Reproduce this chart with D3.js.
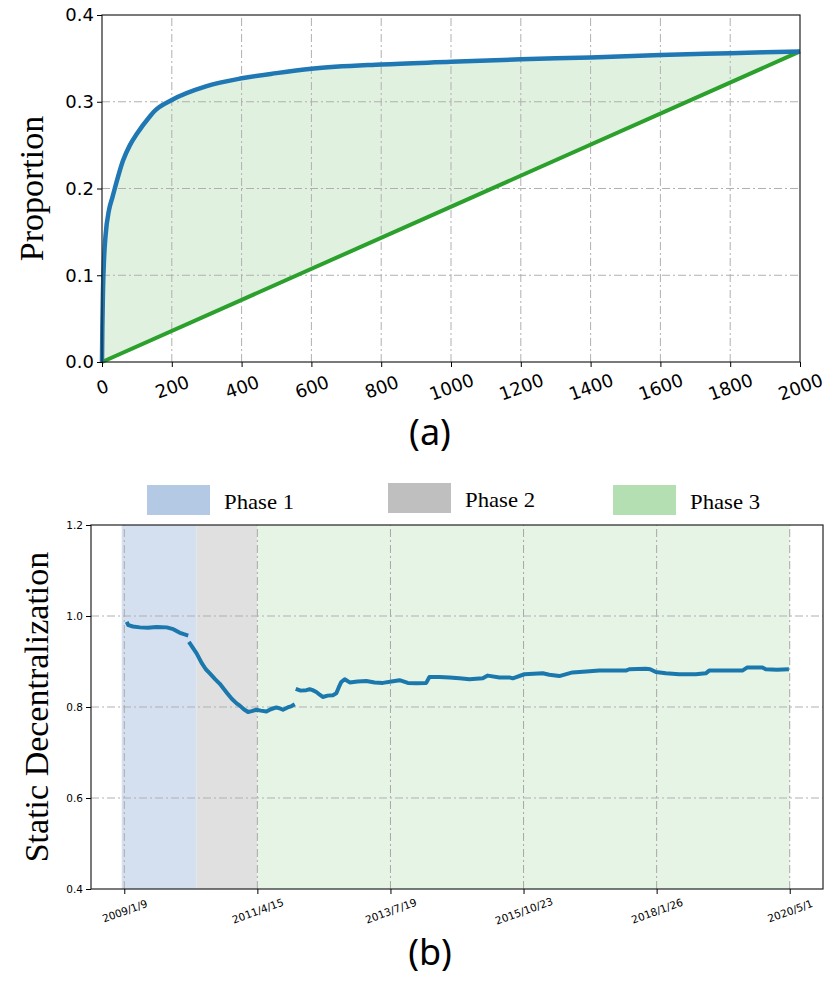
<!DOCTYPE html>
<html lang="en">
<head>
<meta charset="utf-8">
<title>Proportion and Static Decentralization</title>
<script src="https://d3js.org/d3.v7.min.js"></script>
<style>
  body { margin: 0; background: #fff; }
  .tick text { fill: #000; }
</style>
</head>
<body>
<script>
// ---- (a) data ----
const rankX = [0, 1, 3, 6, 10, 20, 30, 40, 60, 80, 100, 137, 150, 200, 300, 400, 500, 600, 800, 1000, 1200, 1400, 1600, 1800, 2000];
const rankCurve = [0, 0.04, 0.085, 0.12, 0.145, 0.175, 0.19, 0.205, 0.232, 0.25, 0.263, 0.283, 0.289, 0.302, 0.318, 0.327, 0.333, 0.338, 0.343, 0.346, 0.349, 0.351, 0.354, 0.356, 0.358];
const diagonalEnd = 0.358;
const topXTicks = [0, 200, 400, 600, 800, 1000, 1200, 1400, 1600, 1800, 2000];
const topYTicks = [0, 0.1, 0.2, 0.3, 0.4];

// ---- (b) data ---- (days after 2009/1/9, null = gap)
const dayOffsets = [15, 25, 54, 97, 147, 201, 263, 304, 345, 370, 397, null,
  401, 426, 449, 480, 506, 531, 562, 593, 635, 667, 697, 717, 742, 768, 791, 820, 847, 882, 909, 944, 965, 985, 1014, 1039, 1058, null,
  1064, 1095, 1130, 1151, 1169, 1192, 1213, 1232, 1262, 1295, 1316, 1331, 1347, 1368, 1399, 1448, 1502, 1554, 1605, 1659, 1708, 1760, 1814, 1874,
  1894, 1956, 2018, 2080, 2142, 2225, 2256, 2328, 2390, 2411, 2483, 2597, 2638, 2700, 2782, 2867, 2948, 3028, 3113, 3134, 3237, 3264, 3299,
  3361, 3444, 3547, 3609, 3630, 3735, 3836, 3867, 3960, 3981, 4051, 4125];
const decentral = [0.987, 0.980, 0.977, 0.975, 0.974, 0.976, 0.975, 0.971, 0.963, 0.960, 0.957, null,
  0.943, 0.930, 0.918, 0.897, 0.883, 0.874, 0.862, 0.851, 0.832, 0.818, 0.808, 0.803, 0.795, 0.789, 0.791, 0.794, 0.792, 0.790, 0.795, 0.799, 0.797, 0.794, 0.799, 0.802, 0.806, null,
  0.840, 0.836, 0.837, 0.839, 0.837, 0.833, 0.827, 0.822, 0.825, 0.826, 0.830, 0.843, 0.855, 0.861, 0.854, 0.856, 0.857, 0.854, 0.853, 0.856, 0.859, 0.853, 0.852, 0.853,
  0.866, 0.866, 0.865, 0.863, 0.861, 0.863, 0.869, 0.865, 0.865, 0.863, 0.872, 0.874, 0.871, 0.868, 0.876, 0.878, 0.880, 0.880, 0.880, 0.883, 0.884, 0.883, 0.877,
  0.874, 0.872, 0.872, 0.874, 0.880, 0.880, 0.880, 0.887, 0.887, 0.883, 0.882, 0.883];
const dateTicks = ["2009/1/9", "2011/4/15", "2013/7/19", "2015/10/23", "2018/1/26", "2020/5/1"];
const phaseNames = ["Phase 1", "Phase 2", "Phase 3"];
const phaseStarts = ["2008/12/24", "2010/4/3", "2011/4/15"];
const phaseEnds = ["2010/4/3", "2011/4/15", "2020/5/1"];
const botYTicks = [0.4, 0.6, 0.8, 1.0, 1.2];

const parseDate = d3.timeParse("%Y/%m/%d");
const fmtDate = d => `${d.getFullYear()}/${d.getMonth() + 1}/${d.getDate()}`;

const svg = d3.select("body").append("svg")
  .attr("width", 830).attr("height", 987);

const gridDash = "8,3,2,3";

// ================= (a) =================
const xA = d3.scaleLinear().domain([0, 2000]).range([102, 800]);
const yA = d3.scaleLinear().domain([0, 0.4]).range([362, 15]);

const curve = rankX.map((x, i) => ({x: x, y: rankCurve[i]}));

svg.append("path")
  .datum(curve)
  .attr("fill", "#2ca02c")
  .attr("fill-opacity", 0.15)
  .attr("d", d3.area()
    .x(d => xA(d.x))
    .y0(d => yA(d.x / 2000 * diagonalEnd))
    .y1(d => yA(d.y))
    .curve(d3.curveMonotoneX));

// grid
const gA = svg.append("g");
gA.selectAll("line.vx").data(topXTicks.slice(1, -1)).enter().append("line")
  .attr("x1", d => xA(d)).attr("x2", d => xA(d))
  .attr("y1", yA(0)).attr("y2", yA(0.4))
  .attr("stroke", "#b0b0b0").attr("stroke-dasharray", gridDash);
gA.selectAll("line.hy").data(topYTicks.slice(1, -1)).enter().append("line")
  .attr("x1", xA(0)).attr("x2", xA(2000))
  .attr("y1", d => yA(d)).attr("y2", d => yA(d))
  .attr("stroke", "#b0b0b0").attr("stroke-dasharray", gridDash);

svg.append("line")
  .attr("x1", xA(0)).attr("y1", yA(0))
  .attr("x2", xA(2000)).attr("y2", yA(diagonalEnd))
  .attr("stroke", "#2ca02c").attr("stroke-width", 4);

svg.append("path")
  .datum(curve)
  .attr("fill", "none")
  .attr("stroke", "#1f77b4")
  .attr("stroke-width", 4.5)
  .attr("stroke-linejoin", "round")
  .attr("d", d3.line().x(d => xA(d.x)).y(d => yA(d.y)).curve(d3.curveMonotoneX));

svg.append("rect")
  .attr("x", xA(0)).attr("y", yA(0.4))
  .attr("width", xA(2000) - xA(0)).attr("height", yA(0) - yA(0.4))
  .attr("fill", "none").attr("stroke", "#222").attr("stroke-width", 1.2);

const axA = svg.append("g")
  .attr("transform", `translate(0,${yA(0)})`)
  .call(d3.axisBottom(xA).tickValues(topXTicks).tickFormat(d3.format("d")).tickSize(5).tickSizeOuter(0));
axA.select(".domain").remove();
axA.selectAll("text")
  .attr("y", 0).attr("dy", "0.35em")
  .attr("transform", "translate(0,25) rotate(-20)")
  .style("text-anchor", "middle")
  .style("font", "18px 'DejaVu Sans'");

const ayA = svg.append("g")
  .attr("transform", `translate(${xA(0)},0)`)
  .call(d3.axisLeft(yA).tickValues(topYTicks).tickFormat(d3.format(".1f")).tickSize(5).tickSizeOuter(0));
ayA.select(".domain").remove();
ayA.selectAll("text").style("font", "18px 'DejaVu Sans'");

svg.append("text")
  .attr("transform", `translate(31,${(yA(0) + yA(0.4)) / 2}) rotate(-90)`)
  .attr("text-anchor", "middle").attr("dy", "0.35em")
  .style("font", "34px 'Liberation Serif'")
  .text("Proportion");

svg.append("text")
  .attr("x", 430).attr("y", 445)
  .attr("text-anchor", "middle")
  .style("font", "36px 'Noto Sans'")
  .text("(a)");

// ================= (b) =================
const d0 = parseDate(dateTicks[0]);
const d1 = parseDate(dateTicks[dateTicks.length - 1]);
const xB = d3.scaleTime()
  .domain([new Date(+d0 - 206.5 * 864e5), new Date(+d1 + 206.5 * 864e5)])
  .range([91, 823]);
const yB = d3.scaleLinear().domain([0.4, 1.2]).range([889, 525]);

const spanFill = ["#d4e0f0", "#e0e0e0", "#e6f4e6"];
const legendFill = ["#b3c9e4", "#bfbfbf", "#b3dfb3"];

svg.append("g").selectAll("rect").data(phaseNames).enter().append("rect")
  .attr("x", (d, i) => xB(parseDate(phaseStarts[i])))
  .attr("width", (d, i) => xB(parseDate(phaseEnds[i])) - xB(parseDate(phaseStarts[i])))
  .attr("y", yB(1.2)).attr("height", yB(0.4) - yB(1.2))
  .attr("fill", (d, i) => spanFill[i]);

const tickDates = dateTicks.map(parseDate);
const gB = svg.append("g");
gB.selectAll("line.vx").data(tickDates).enter().append("line")
  .attr("x1", d => xB(d)).attr("x2", d => xB(d))
  .attr("y1", yB(0.4)).attr("y2", yB(1.2))
  .attr("stroke", "#a8a8a8").attr("stroke-dasharray", gridDash);
gB.selectAll("line.hy").data(botYTicks.slice(1, -1)).enter().append("line")
  .attr("x1", xB.range()[0]).attr("x2", xB.range()[1])
  .attr("y1", d => yB(d)).attr("y2", d => yB(d))
  .attr("stroke", "#b0b0b0").attr("stroke-dasharray", gridDash);

const series = dayOffsets.map((o, i) => ({
  date: o == null ? null : d3.timeDay.offset(d0, o),
  v: decentral[i]
}));

svg.append("path")
  .datum(series)
  .attr("fill", "none")
  .attr("stroke", "#1b78ad")
  .attr("stroke-width", 4)
  .attr("stroke-linejoin", "round")
  .attr("d", d3.line()
    .defined(d => d.v != null)
    .x(d => xB(d.date)).y(d => yB(d.v)));

svg.append("rect")
  .attr("x", xB.range()[0]).attr("y", yB(1.2))
  .attr("width", xB.range()[1] - xB.range()[0]).attr("height", yB(0.4) - yB(1.2))
  .attr("fill", "none").attr("stroke", "#222").attr("stroke-width", 1.2);

const axB = svg.append("g")
  .attr("transform", `translate(0,${yB(0.4)})`)
  .call(d3.axisBottom(xB).tickValues(tickDates).tickFormat(fmtDate).tickSize(5).tickSizeOuter(0));
axB.select(".domain").remove();
axB.selectAll("text")
  .attr("y", 0).attr("dy", "0.35em")
  .attr("transform", "translate(0,22) rotate(-20)")
  .style("text-anchor", "middle")
  .style("font", "10.5px 'DejaVu Sans'");

const ayB = svg.append("g")
  .attr("transform", `translate(${xB.range()[0]},0)`)
  .call(d3.axisLeft(yB).tickValues(botYTicks).tickFormat(d3.format(".1f")).tickSize(5).tickSizeOuter(0));
ayB.select(".domain").remove();
ayB.selectAll("text").style("font", "10.5px 'DejaVu Sans'");

svg.append("text")
  .attr("transform", `translate(36,${(yB(0.4) + yB(1.2)) / 2}) rotate(-90)`)
  .attr("text-anchor", "middle").attr("dy", "0.35em")
  .style("font", "34px 'Liberation Serif'")
  .text("Static Decentralization");

// legend
const legX = [147, 388, 613];
const legY = [485, 483, 485];
const leg = svg.append("g").selectAll("g").data(phaseNames).enter().append("g")
  .attr("transform", (d, i) => `translate(${legX[i]},${legY[i]})`);
leg.append("rect").attr("width", 63).attr("height", 30)
  .attr("fill", (d, i) => legendFill[i]);
leg.append("text")
  .attr("x", 77).attr("y", 24)
  .attr("textLength", 70).attr("lengthAdjust", "spacingAndGlyphs")
  .style("font", "21px 'Liberation Serif'")
  .text(d => d);

svg.append("text")
  .attr("x", 430).attr("y", 965)
  .attr("text-anchor", "middle")
  .style("font", "36px 'Noto Sans'")
  .text("(b)");
</script>
</body>
</html>
